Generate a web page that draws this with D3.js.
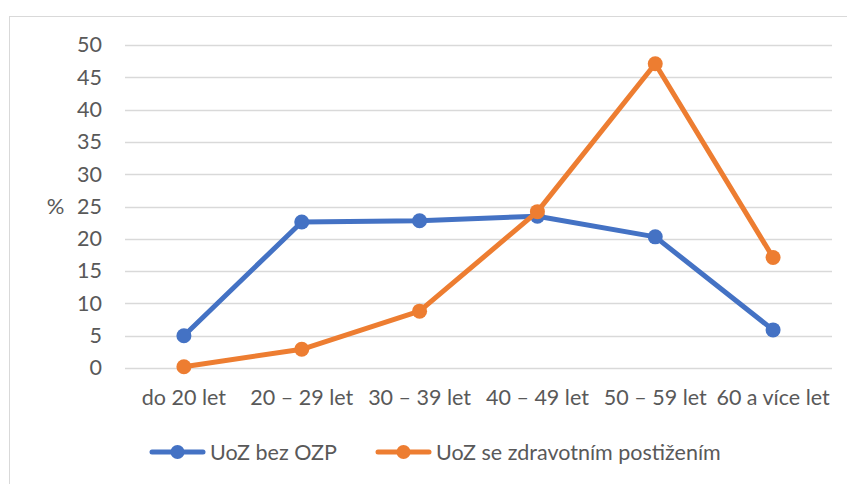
<!DOCTYPE html>
<html>
<head>
<meta charset="utf-8">
<script src="https://cdn.jsdelivr.net/npm/d3@7"></script>
<style>
  body { margin: 0; background: #fff; }
  text { font-family: Lato, "Open Sans", sans-serif; fill: #595959; }
</style>
</head>
<body>
<div id="chart"></div>
<script>
const categories = ["do 20 let", "20 – 29 let", "30 – 39 let", "40 – 49 let", "50 – 59 let", "60 a více let"];
const bezOZP = [5.0, 22.6, 22.8, 23.5, 20.3, 5.9];
const seOZP = [0.2, 2.9, 8.8, 24.2, 47.1, 17.1];
const yTicks = [0, 5, 10, 15, 20, 25, 30, 35, 40, 45, 50];
const seriesNames = ["UoZ bez OZP", "UoZ se zdravotním postižením"];
const colors = ["#4472c4", "#ed7d31"];

const width = 847, height = 484;
const margin = { top: 45, right: 15, bottom: 116, left: 125 };
const fontSize = "21.5px";

const svg = d3.select("#chart")
  .append("svg")
  .attr("width", width)
  .attr("height", height);

// rámeček grafu (jen horní a levá hrana jsou vidět)
svg.append("rect")
  .attr("x", 9.5).attr("y", 16.5)
  .attr("width", 900).attr("height", 500)
  .attr("fill", "none")
  .attr("stroke", "#d9d9d9");

const x = d3.scaleBand()
  .domain(categories)
  .range([margin.left, width - margin.right]);

const y = d3.scaleLinear()
  .domain([0, 50])
  .range([height - margin.bottom, margin.top]);

// mřížka
svg.append("g")
  .selectAll("line")
  .data(yTicks)
  .join("line")
  .attr("x1", margin.left)
  .attr("x2", width - margin.right)
  .attr("y1", d => Math.round(y(d)) + 0.5)
  .attr("y2", d => Math.round(y(d)) + 0.5)
  .attr("stroke", "#d9d9d9")
  .attr("stroke-width", 1.3);

// osa Y
const yAxis = svg.append("g")
  .attr("transform", `translate(${margin.left - 23},0)`)
  .call(d3.axisLeft(y).tickValues(yTicks).tickSize(0).tickPadding(0));
yAxis.select(".domain").remove();
yAxis.selectAll("text")
  .style("font-size", fontSize)
  .style("font-family", "Lato, sans-serif")
  .attr("fill", "#595959");

svg.append("text")
  .attr("x", 55.5)
  .attr("y", y(25))
  .attr("dy", "0.35em")
  .attr("text-anchor", "middle")
  .style("font-size", "22px")
  .text("%");

// osa X
const xAxis = svg.append("g")
  .attr("transform", `translate(0,${height - margin.bottom + 22})`)
  .call(d3.axisBottom(x).tickSize(0).tickPadding(0));
xAxis.select(".domain").remove();
xAxis.selectAll("text")
  .style("font-size", fontSize)
  .style("font-family", "Lato, sans-serif")
  .attr("fill", "#595959");

const line = d3.line()
  .x((d, i) => x(categories[i]) + x.bandwidth() / 2)
  .y(d => y(d));

[bezOZP, seOZP].forEach((vals, s) => {
  const g = svg.append("g");
  g.append("path")
    .datum(vals)
    .attr("fill", "none")
    .attr("stroke", colors[s])
    .attr("stroke-width", 5)
    .attr("stroke-linejoin", "round")
    .attr("d", line);
  g.selectAll("circle")
    .data(vals)
    .join("circle")
    .attr("cx", (d, i) => x(categories[i]) + x.bandwidth() / 2)
    .attr("cy", d => y(d))
    .attr("r", 7.5)
    .attr("fill", colors[s]);
});

// legenda
const legendX = [150, 376];
const legend = svg.append("g");
seriesNames.forEach((name, s) => {
  const lg = legend.append("g").attr("transform", `translate(${legendX[s]},452)`);
  lg.append("line")
    .attr("x1", 2).attr("x2", 53)
    .attr("stroke", colors[s])
    .attr("stroke-width", 5)
    .attr("stroke-linecap", "round");
  lg.append("circle").attr("cx", 27.5).attr("r", 7).attr("fill", colors[s]);
  lg.append("text")
    .attr("x", 60)
    .attr("dy", "0.35em")
    .style("font-size", fontSize)
    .text(name);
});
</script>
</body>
</html>
